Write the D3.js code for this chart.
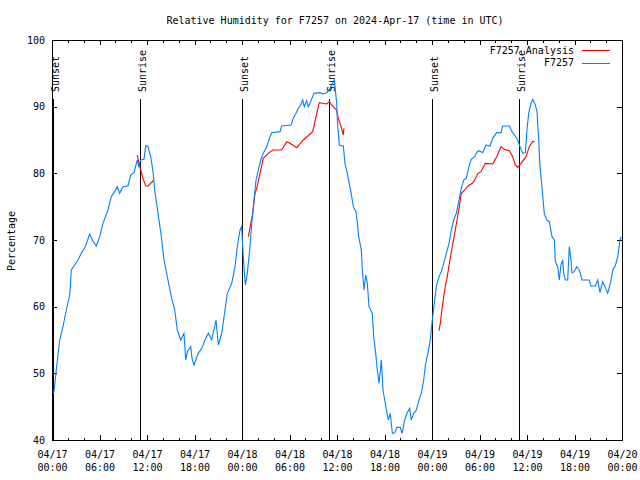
<!DOCTYPE html>
<html>
<head>
<meta charset="utf-8">
<script src="https://cdn.jsdelivr.net/npm/d3@7"></script>
<style>
  body { margin: 0; background: #fff; }
  text { font-family: "DejaVu Sans Mono", monospace; font-size: 10px; fill: #000; }
  .tick line { stroke: #000; }
</style>
</head>
<body>
<svg id="rhsvg" width="640" height="480"></svg>
<script>
// hours since 2024-04-17 00:00 UTC
const obsHours = [0.0, 0.25, 0.54, 0.97, 1.39, 1.81, 2.24, 2.44, 2.87, 3.28, 3.70, 4.21, 4.76, 5.09, 5.60, 6.03, 6.44, 7.07, 7.49, 7.92,
  8.25, 8.55, 8.97, 9.60, 9.94, 10.36, 10.77, 10.95, 11.20, 11.62, 11.84, 12.13, 12.47, 12.76, 12.97, 13.39, 13.81, 14.15, 14.65, 15.07,
  15.50, 15.83, 16.26, 16.67, 16.89, 17.09, 17.52, 17.72, 17.94, 18.48, 18.91, 19.33, 19.74, 20.17, 20.72, 21.01, 21.44, 21.85, 22.14, 22.70,
  23.12, 23.41, 23.75, 23.96, 24.16, 24.42, 24.67, 25.01, 25.23, 25.52, 25.77, 26.06, 26.36, 26.69, 27.12, 27.54, 27.75, 28.80, 29.01, 30.19,
  30.48, 30.82, 31.11, 31.41, 31.67, 31.87, 32.17, 32.37, 32.59, 33.09, 33.85, 34.19, 34.70, 35.03, 35.46, 35.66, 35.96, 36.04, 36.29, 36.80,
  37.01, 37.30, 37.55, 37.86, 38.06, 38.40, 38.53, 38.74, 39.07, 39.20, 39.41, 39.63, 39.83, 40.04, 40.46, 40.63, 40.89, 41.09, 41.31, 41.60,
  41.81, 42.03, 42.32, 42.48, 42.73, 42.99, 43.29, 43.58, 44.00, 44.21, 44.55, 44.84, 45.18, 45.38, 45.69, 46.02, 46.36, 46.65, 46.95, 47.20,
  47.49, 47.78, 48.04, 48.34, 48.54, 48.88, 49.17, 49.48, 49.81, 50.15, 50.44, 50.74, 51.07, 51.41, 51.70, 52.00, 52.33, 52.67, 52.96, 53.39,
  53.72, 53.97, 54.40, 54.82, 55.33, 55.67, 56.17, 56.72, 56.93, 57.77, 58.11, 58.52, 58.82, 59.12, 59.46, 59.79, 60.00, 60.21, 60.51, 60.72,
  61.05, 61.26, 61.48, 61.64, 61.89, 62.18, 62.49, 62.82, 63.16, 63.45, 63.58, 63.88, 64.08, 64.29, 64.51, 64.63, 64.84, 65.14, 65.34, 65.56,
  65.68, 65.97, 66.28, 66.61, 66.95, 67.87, 68.08, 68.63, 68.93, 69.22, 69.56, 69.85, 70.19, 70.52, 70.85, 71.18, 71.46, 71.75, 71.92];
const obsRH = [46.8, 47.2, 50.5, 55, 57, 59.5, 61.75, 65.5, 66.25, 67, 68, 69, 70.9, 70, 69.1, 70.5, 72.5, 74.5, 76.5, 77.25,
  78, 77, 78, 78.1, 79.75, 80.1, 82, 81.1, 82, 82.1, 84.15, 84, 82.5, 80.25, 77.5, 74, 70.5, 67, 64, 61.5,
  59.5, 56.5, 55, 56, 52, 53.25, 54, 52, 51.25, 53, 53.75, 55, 56, 55, 58, 54.25, 56, 59.5, 62, 63.5,
  66, 69, 71.5, 72, 67.5, 63.25, 65, 69, 72.5, 76, 79, 80.5, 82, 83, 84, 85.5, 86.1, 86.25, 87.1, 87.25,
  88.25, 89, 89.75, 90.25, 91, 90, 90.9, 90, 90.5, 92, 92.1, 91.9, 92.1, 92.6, 93.5, 94.1, 90.5, 88, 84.25, 84.1,
  81.5, 80, 78.5, 76.5, 75, 74.25, 73, 70.5, 68.5, 65.5, 62.5, 64.75, 63.5, 60, 59, 55.5, 53, 50.5, 48.5, 52,
  47.5, 46, 44, 43, 44, 41, 41.1, 41.9, 41.9, 41, 43, 44, 44.75, 43, 44, 44.5, 46, 47, 49, 51.5,
  53, 55, 58, 61, 63, 64.5, 65.25, 66.5, 68, 69.5, 71.5, 73, 74, 76, 77.75, 79, 79.25, 81, 82.1, 82.5,
  83.25, 83.4, 83.1, 84.25, 84.1, 85.25, 86.1, 86.1, 87.1, 87.1, 86.25, 85.6, 85, 84, 83, 83.1, 86.5, 89, 90.5, 91.1,
  90.25, 89.25, 85, 81, 78, 74, 73, 72.75, 70.5, 70, 66.75, 66, 64, 66.25, 67, 65, 64, 64, 69, 67,
  65.1, 65.25, 66, 65.5, 64, 64, 63.1, 63.1, 64, 62.1, 63.75, 63, 62, 63.5, 65.5, 66.25, 67.5, 70, 70.5];

// analysis runs, null breaks the line between runs
const anaHours = [10.77, 11.08, 11.49, 11.84, 12.13, 12.88, null,
  24.80, 25.35, 25.64, 25.86, 26.27, 26.69, 27.32, 27.88, 28.59, 29.01, 29.65, 30.06, 30.91, 31.74, 32.93, 33.35, 33.76, 34.19,
  34.70, 35.03, 35.33, 35.75, 35.96, 36.16, 36.59, 36.80, 36.88, null,
  48.88, 49.05, 49.30, 49.60, 49.89, 50.23, 50.56, 50.87, 51.16, 51.41, 51.70, 52.13, 52.55, 53.09, 53.39, 53.81, 54.19, 54.73,
  55.67, 56.17, 56.72, 57.14, 57.77, 58.19, 58.52, 58.82, 59.24, 59.87, 60.29, 60.72, 60.97];
const anaRH = [82.75, 81.1, 79.25, 78.1, 78.1, 79, null,
  70.5, 74, 77, 77.75, 80, 82.25, 83, 83.5, 83.5, 83.5, 84.75, 84.5, 83.85, 85, 86.25, 88.5, 90.6, 90.5,
  90.4, 90.75, 90.25, 89.75, 89.5, 88.25, 86.75, 85.75, 86.75, null,
  56.4, 57.5, 60, 62.5, 64.25, 66.75, 69, 71, 73, 74.75, 77, 77.5, 78.1, 78.5, 79, 80, 80.25, 81.5,
  81.4, 82.5, 84, 83.6, 83.4, 82.5, 81.25, 80.9, 81.5, 82.5, 84, 84.75, 84.75];

const sunHours = [0.12, 11.15, 24.05, 35.05, 48.05, 59.05];
const sunLabels = ['Sunset', 'Sunrise', 'Sunset', 'Sunrise', 'Sunset', 'Sunrise'];
const yTicks = [40, 50, 60, 70, 80, 90, 100];
const seriesNames = ['F7257 Analysis', 'F7257'];
const seriesColors = ['#ff0000', '#0080ff'];

const svg = d3.select('#rhsvg');
const margin = {top: 40, right: 18, bottom: 40, left: 52};
const width = +svg.attr('width');
const height = +svg.attr('height');
const t0 = Date.UTC(2024, 3, 17, 0, 0);
const toDate = h => new Date(t0 + h * 3600e3);

const x = d3.scaleUtc().domain([toDate(0), toDate(72)]).range([margin.left, width - margin.right]);
const y = d3.scaleLinear().domain([40, 100]).range([height - margin.bottom, margin.top]);

svg.append('text')
    .attr('x', 335).attr('y', 23.5)
    .attr('text-anchor', 'middle')
    .text('Relative Humidity for F7257 on 2024-Apr-17 (time in UTC)');

svg.append('text')
    .attr('transform', 'translate(14.5,241) rotate(-90)')
    .attr('text-anchor', 'middle')
    .text('Percentage');

// axes, ticks pointing inward like the original
function styleAxis(g) {
    g.select('.domain').remove();
    g.attr('font-family', null).attr('font-size', null);
    g.selectAll('line').attr('shape-rendering', 'crispEdges');
}
const fmtDay = d3.utcFormat('%m/%d');
const fmtTime = d3.utcFormat('%H:%M');

const xAxisG = svg.append('g').attr('transform', `translate(0,${y(40)})`)
    .call(d3.axisBottom(x).ticks(d3.utcHour.every(6)).tickSize(-5).tickPadding(0).tickFormat(fmtDay))
    .call(styleAxis);
xAxisG.selectAll('.tick text').each(function(d) {
    const t = d3.select(this).attr('dy', null).attr('y', null).text(null);
    t.append('tspan').attr('x', 0).attr('y', 18).text(fmtDay(d));
    t.append('tspan').attr('x', 0).attr('y', 30.5).text(fmtTime(d));
});
svg.append('g').attr('transform', `translate(0,${y(40)})`)
    .call(d3.axisBottom(x).ticks(d3.utcHour.every(2)).tickSize(-2.5).tickFormat(''))
    .call(styleAxis);
svg.append('g').attr('transform', `translate(0,${y(100)})`)
    .call(d3.axisTop(x).ticks(d3.utcHour.every(6)).tickSize(-5).tickFormat(''))
    .call(styleAxis);
svg.append('g').attr('transform', `translate(0,${y(100)})`)
    .call(d3.axisTop(x).ticks(d3.utcHour.every(2)).tickSize(-2.5).tickFormat(''))
    .call(styleAxis);
svg.append('g').attr('transform', `translate(${margin.left},0)`)
    .call(d3.axisLeft(y).tickValues(yTicks).tickSize(-5).tickPadding(7))
    .call(styleAxis);
svg.append('g').attr('transform', `translate(${width - margin.right},0)`)
    .call(d3.axisRight(y).tickValues(yTicks).tickSize(-5).tickFormat(''))
    .call(styleAxis);

// sunrise / sunset markers
const sun = svg.append('g').selectAll('g').data(sunHours).enter().append('g');
sun.append('line')
    .attr('x1', d => Math.round(x(toDate(d))) + 0.5).attr('x2', d => Math.round(x(toDate(d))) + 0.5)
    .attr('y1', y(40)).attr('y2', 99)
    .attr('stroke', '#000')
    .attr('shape-rendering', 'crispEdges');
sun.append('text')
    .attr('transform', d => `translate(${x(toDate(d)) + 6},92) rotate(-90)`)
    .text((d, i) => sunLabels[i]);

const line = d3.line()
    .defined(d => d.v != null)
    .x(d => x(toDate(d.h)))
    .y(d => y(d.v));

const anaData = anaHours.map((h, i) => ({h: h, v: anaRH[i]}));
const obsData = obsHours.map((h, i) => ({h: h, v: obsRH[i]}));

svg.append('path').datum(anaData)
    .attr('fill', 'none').attr('stroke', seriesColors[0]).attr('stroke-width', 1.1)
    .attr('d', line);
svg.append('path').datum(obsData)
    .attr('fill', 'none').attr('stroke', seriesColors[1]).attr('stroke-width', 1.1)
    .attr('d', line);

// frame
svg.append('rect')
    .attr('x', margin.left + 0.5).attr('y', margin.top + 0.5)
    .attr('width', width - margin.left - margin.right)
    .attr('height', height - margin.top - margin.bottom)
    .attr('fill', 'none').attr('stroke', '#000')
    .attr('shape-rendering', 'crispEdges');

// legend
const legend = svg.append('g').selectAll('g').data(seriesNames).enter().append('g')
    .attr('transform', (d, i) => `translate(0,${50 + i * 12.8})`);
legend.append('text').attr('x', 574).attr('y', 3.6).attr('text-anchor', 'end').text(d => d);
legend.append('line')
    .attr('x1', 582).attr('x2', 610).attr('y1', 0.5).attr('y2', 0.5)
    .attr('stroke', (d, i) => seriesColors[i])
    .attr('shape-rendering', 'crispEdges');
</script>
</body>
</html>
